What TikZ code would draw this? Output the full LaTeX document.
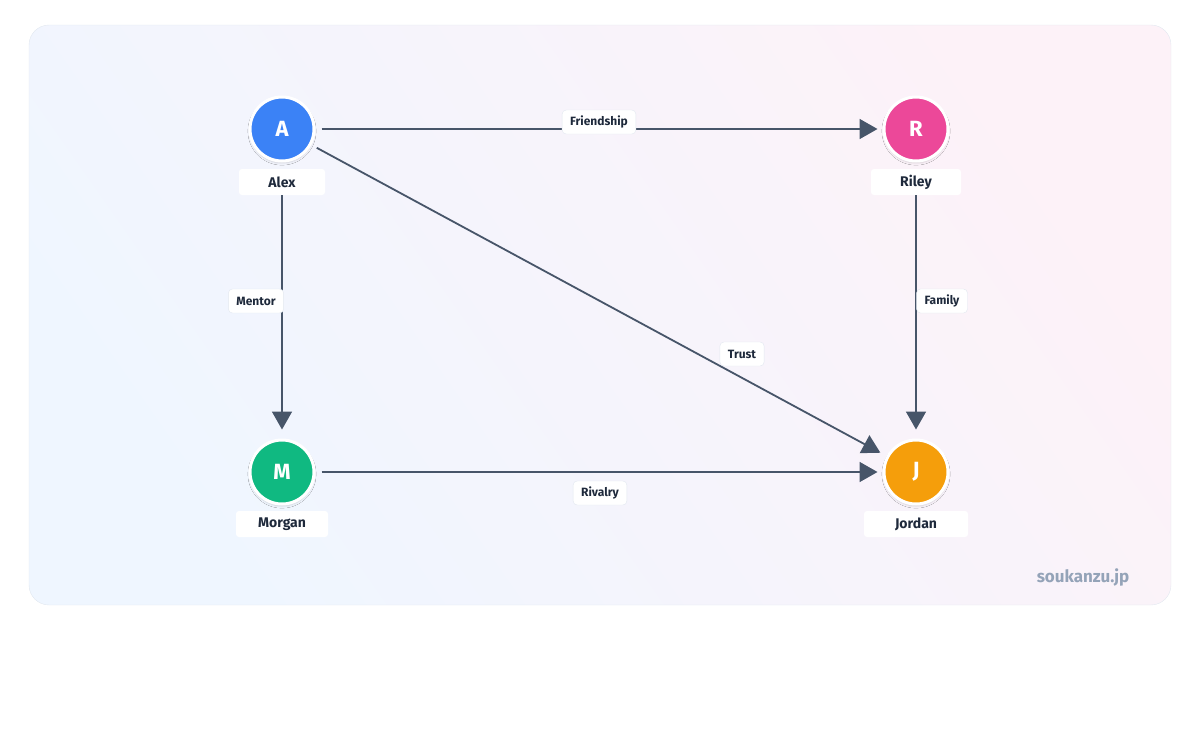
\documentclass[tikz,border=0pt]{standalone}
\usepackage{fontspec}
\setmainfont{Fira Sans}
\usepackage{xcolor}
\usetikzlibrary{arrows.meta, positioning, shadows.blur}

\definecolor{edgegray}{HTML}{475569}
\definecolor{textdark}{HTML}{1E293B}
\definecolor{framegray}{HTML}{E2E8F0}
\definecolor{markgray}{HTML}{94A3B8}
\definecolor{bgblue}{HTML}{EFF6FF}
\definecolor{bgpink}{HTML}{FDF2F8}
\definecolor{alexblue}{HTML}{3B82F6}
\definecolor{rileypink}{HTML}{EC4899}
\definecolor{morgangreen}{HTML}{10B981}
\definecolor{jordanamber}{HTML}{F59E0B}

\begin{document}
\begin{tikzpicture}[
                x=1pt, y=-1pt,
                person/.style={circle, draw=white, line width=3pt, minimum size=64pt, inner sep=0pt,
                    text=white, font=\fontsize{22}{24}\selectfont\bfseries,
                    blur shadow={shadow blur steps=6, shadow opacity=15, shadow xshift=0pt, shadow yshift=-2pt}},
                tag/.style={rectangle, rounded corners=3pt, fill=white, inner sep=0pt, minimum height=26pt,
                    text=textdark, font=\fontsize{14}{16}\selectfont\bfseries},
                rel/.style={rectangle, rounded corners=4pt, fill=white, draw=framegray, inner xsep=8pt,
                    minimum height=24pt, text=textdark, font=\fontsize{12}{14}\selectfont\bfseries},
                link/.style={draw=edgegray, line width=1.8pt, -{Triangle[length=18pt, width=20pt]}}
            ]
                \useasboundingbox (0,0) rectangle (1200,750);

                % Background card
                \shade[rounded corners=20pt, left color=bgblue, middle color=white, right color=bgpink, shading angle=125]
                    (29,25) rectangle (1171,605);
                \draw[framegray, rounded corners=20pt] (29,25) rectangle (1171,605);

                % People
                \node[person, fill=alexblue] (A) at (282,129) {A};
                \node[person, fill=rileypink] (R) at (916,129) {R};
                \node[person, fill=morgangreen] (M) at (282,472) {M};
                \node[person, fill=jordanamber] (J) at (916,472) {J};

                % Names
                \node[tag, minimum width=86pt] (Aname) at (282,182) {Alex};
                \node[tag, minimum width=90pt] (Rname) at (916,182) {Riley};
                \node[tag, minimum width=92pt] (Mname) at (282,524) {Morgan};
                \node[tag, minimum width=104pt] (Jname) at (916,524) {Jordan};

                % Relations
                \draw[link, shorten <=6pt, shorten >=5pt] (A) -- (R);
                \draw[link, shorten <=6pt, shorten >=7pt] (A) -- (J);
                \draw[link, shorten <=0pt, shorten >=9pt] (Aname) -- (M);
                \draw[link, shorten <=0pt, shorten >=9pt] (Rname) -- (J);
                \draw[link, shorten <=6pt, shorten >=5pt] (M) -- (J);

                % Relation labels
                \node[rel] (fr) at (599,122) {Friendship};
                \node[rel] (me) at (256,301) {Mentor};
                \node[rel] (fa) at (942,301) {Family};
                \node[rel] (tr) at (742,354) {Trust};
                \node[rel] (ri) at (600,493) {Rivalry};

                % Watermark
                \node[text=markgray, font=\fontsize{17}{19}\selectfont\bfseries] (mark) at (1083,577) {soukanzu.jp};
            \end{tikzpicture}
\end{document}
